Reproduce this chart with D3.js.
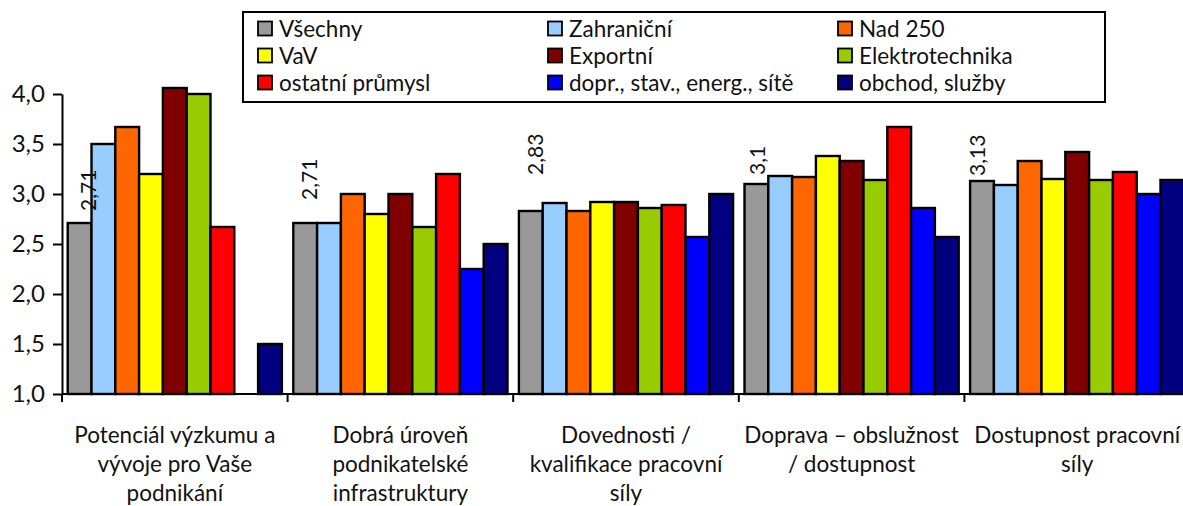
<!DOCTYPE html>
<html>
<head>
<meta charset="utf-8">
<script src="https://cdn.jsdelivr.net/npm/d3@7"></script>
<style>
  html, body { margin: 0; padding: 0; background: #fff; }
  svg { display: block; font-family: Lato, "Open Sans", sans-serif; }
</style>
</head>
<body>
<svg id="chart" width="1183" height="506"></svg>
<script>
// ---------- DATA ----------
const categories = [
  "Potenciál výzkumu a vývoje pro Vaše podnikání",
  "Dobrá úroveň podnikatelské infrastruktury",
  "Dovednosti / kvalifikace pracovní síly",
  "Doprava – obslužnost / dostupnost",
  "Dostupnost pracovní síly"
];
const categoryLines = [
  ["Potenciál výzkumu a", "vývoje pro Vaše", "podnikání"],
  ["Dobrá úroveň", "podnikatelské", "infrastruktury"],
  ["Dovednosti /", "kvalifikace pracovní", "síly"],
  ["Doprava – obslužnost", "/ dostupnost"],
  ["Dostupnost pracovní", "síly"]
];
const seriesNames = [
  "Všechny", "Zahraniční", "Nad 250",
  "VaV", "Exportní", "Elektrotechnika",
  "ostatní průmysl", "dopr., stav., energ., sítě", "obchod, služby"
];
const vsechny    = [2.71, 2.71, 2.83, 3.10, 3.13];
const zahranicni = [3.50, 2.71, 2.91, 3.18, 3.09];
const nad250     = [3.67, 3.00, 2.83, 3.17, 3.33];
const vav        = [3.20, 2.80, 2.92, 3.38, 3.15];
const exportni   = [4.06, 3.00, 2.92, 3.33, 3.42];
const elektro    = [4.00, 2.67, 2.86, 3.14, 3.14];
const ostatni    = [2.67, 3.20, 2.89, 3.67, 3.22];
const doprava    = [null, 2.25, 2.57, 2.86, 3.00];
const obchod     = [1.50, 2.50, 3.00, 2.57, 3.14];
const seriesValues = [vsechny, zahranicni, nad250, vav, exportni, elektro, ostatni, doprava, obchod];
const yTicks = [1.0, 1.5, 2.0, 2.5, 3.0, 3.5, 4.0];

// ---------- STYLE / LAYOUT ----------
const seriesColors = ["#999999", "#99CCFF", "#FF6600", "#FFFF00", "#800000",
                      "#99CC00", "#FF0000", "#0000FF", "#000080"];
// manual nudges of the rotated data labels (dx, dy in px) as placed in the original
const labelNudge = [[8, -12], [3.5, -23], [4, -36], [0, -9], [-6, -5]];

const svg = d3.select("#chart");
const plot = { left: 62, right: 1190, top: 94, bottom: 394 };

const x0 = d3.scaleBand().domain(categories).range([plot.left, plot.right]).padding(0);
const x1 = d3.scaleBand().domain(seriesNames).range([0, x0.bandwidth()])
  .paddingInner(0).paddingOuter(0.24);
const y = d3.scaleLinear().domain([1, 4]).range([plot.bottom, plot.top]);

const fmtComma = v => d3.format("~g")(v).replace(".", ",");

// bars
const groups = svg.append("g").selectAll("g")
  .data(categories).join("g")
  .attr("transform", d => `translate(${x0(d)},0)`);

groups.selectAll("rect")
  .data((c, ci) => seriesNames.map((s, si) => ({ s, si, v: seriesValues[si][ci] }))
    .filter(d => d.v !== null))
  .join("rect")
  .attr("x", d => x1(d.s))
  .attr("width", x1.bandwidth())
  .attr("y", d => y(d.v))
  .attr("height", d => y(1) - y(d.v))
  .attr("fill", d => seriesColors[d.si])
  .attr("stroke", "#000")
  .attr("stroke-width", 2.4);

// data labels for "Všechny"
svg.append("g").selectAll("text")
  .data(vsechny.map((v, i) => ({ v, c: categories[i], i })))
  .join("text")
  .attr("transform", d => {
    const cx = x0(d.c) + x1(seriesNames[0]) + x1.bandwidth() / 2 + labelNudge[d.i][0];
    const cy = y(d.v) + labelNudge[d.i][1];
    return `translate(${cx},${cy}) rotate(-90)`;
  })
  .attr("text-anchor", "start")
  .attr("dominant-baseline", "central")
  .attr("font-size", 21)
  .attr("fill", "#111")
  .text(d => fmtComma(d.v));

// y axis
const yAxis = d3.axisLeft(y).tickValues(yTicks)
  .tickFormat(d => d3.format(".1f")(d).replace(".", ","))
  .tickSize(9).tickSizeOuter(0).tickPadding(8);
const gy = svg.append("g").attr("transform", `translate(${plot.left},0)`).call(yAxis);
gy.select(".domain").attr("stroke", "#000").attr("stroke-width", 2);
gy.selectAll(".tick line").attr("stroke", "#000").attr("stroke-width", 2);
gy.selectAll(".tick text").attr("font-size", 24).attr("fill", "#111")
  .attr("font-family", "Lato, sans-serif");

// x axis: line with ticks at category boundaries
const gx = svg.append("g").attr("transform", `translate(0,${plot.bottom})`);
gx.append("line").attr("x1", plot.left).attr("x2", plot.right)
  .attr("stroke", "#000").attr("stroke-width", 2);
const boundaries = categories.map(c => x0(c)).concat([x0.range()[1]]);
gx.selectAll("line.tk").data(boundaries).join("line").attr("class", "tk")
  .attr("x1", d => d).attr("x2", d => d).attr("y1", 0).attr("y2", 8)
  .attr("stroke", "#000").attr("stroke-width", 2);

// category labels
const catLabels = svg.append("g").selectAll("text")
  .data(categories).join("text")
  .attr("text-anchor", "middle")
  .attr("font-size", 22.5)
  .attr("fill", "#111");
catLabels.each(function (c, i) {
  const t = d3.select(this);
  const cx = x0(c) + x0.bandwidth() / 2;
  categoryLines[i].forEach((line, li) => {
    t.append("tspan").attr("x", cx).attr("y", plot.bottom + 49 + li * 29).text(line);
  });
});

// legend
const legend = svg.append("g");
legend.append("rect")
  .attr("x", 243).attr("y", 12).attr("width", 862).attr("height", 90)
  .attr("fill", "#fff").attr("stroke", "#000").attr("stroke-width", 2);
const items = legend.selectAll("g.item").data(seriesNames).join("g")
  .attr("class", "item")
  .attr("transform", (d, i) => `translate(${258 + (i % 3) * 290},${28.5 + Math.floor(i / 3) * 27})`);
items.append("rect")
  .attr("x", 0).attr("y", -7).attr("width", 14).attr("height", 14)
  .attr("fill", (d, i) => seriesColors[i])
  .attr("stroke", "#000").attr("stroke-width", 1.8);
items.append("text")
  .attr("x", 21).attr("y", 0)
  .attr("dominant-baseline", "central")
  .attr("font-size", 22.5)
  .attr("fill", "#111")
  .text(d => d);
</script>
</body>
</html>
